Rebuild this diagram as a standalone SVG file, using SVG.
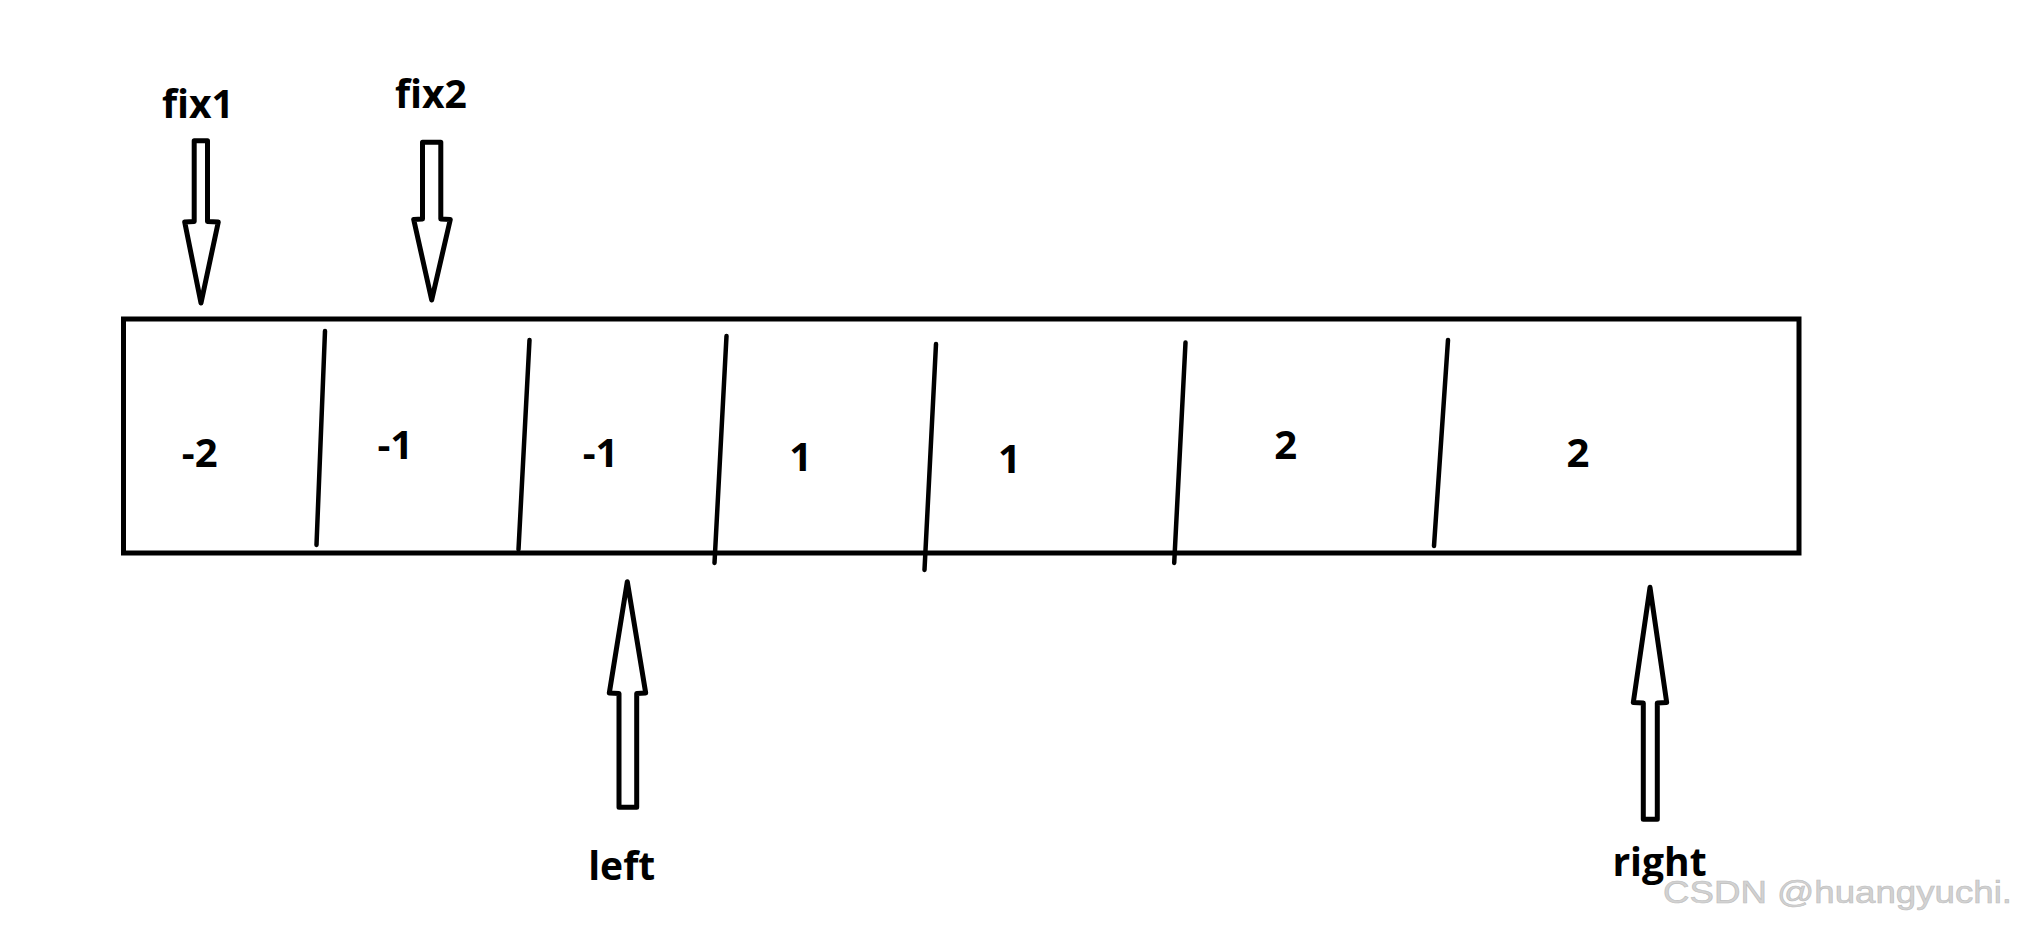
<svg xmlns="http://www.w3.org/2000/svg" width="2019" height="930" viewBox="0 0 2019 930">
<style>
.box{fill:none;stroke:#000;stroke-width:5}
.div{stroke:#000;stroke-width:4.5;stroke-linecap:round;fill:none}
.arr{fill:#fff;stroke:#000;stroke-width:5;stroke-linejoin:round}
.num{font-family:"Open Sans","Liberation Sans",sans-serif;font-weight:700;font-size:40px;fill:#000;text-anchor:middle}
.lbl{font-family:"Open Sans","Liberation Sans",sans-serif;font-weight:700;font-size:39px;fill:#000;text-anchor:middle}
.wm{font-family:"Liberation Sans",sans-serif;font-size:31px;fill:#d2d2d2;stroke:#bdbdbd;stroke-width:0.6}
</style>
<rect width="2019" height="930" fill="#fff"/>
<g id="array">
  <rect class="box" x="123.5" y="319" width="1675.5" height="234"/>
  <g id="dividers">
    <line class="div" x1="325" y1="331" x2="316.5" y2="545"/>
    <line class="div" x1="529.5" y1="340" x2="518.5" y2="549.5"/>
    <line class="div" x1="726.5" y1="336" x2="714.5" y2="563"/>
    <line class="div" x1="936" y1="344" x2="924.5" y2="570"/>
    <line class="div" x1="1185.5" y1="342.5" x2="1174.2" y2="563"/>
    <line class="div" x1="1448" y1="340" x2="1434" y2="546"/>
  </g>
  <g id="cells">
    <text class="num" x="199.7" y="467">-2</text>
    <text class="num" x="395.3" y="459">-1</text>
    <text class="num" x="600.5" y="467">-1</text>
    <text class="num" x="800.8" y="471">1</text>
    <text class="num" x="1009.5" y="473">1</text>
    <text class="num" x="1285.8" y="459">2</text>
    <text class="num" x="1578" y="467">2</text>
  </g>
</g>
<g id="fix1">
  <text class="lbl" x="198" y="118">fix1</text>
</g>
<g id="fix2">
  <text class="lbl" x="431" y="108">fix2</text>
</g>
<g id="left">
  <text class="lbl" x="621.7" y="880">left</text>
</g>
<g id="right">
  <text class="lbl" x="1659.5" y="876">right</text>
</g>
<g id="connectors">
  <polygon class="arr" points="194.2,140.7 207.5,140.7 207.5,221.5 218.3,222 201,303 184.7,222 194.2,221.5"/>
  <polygon class="arr" points="422.5,142.3 440.8,142.3 440.8,219 450.3,219.5 431.7,300 413.7,219.5 422.5,219"/>
  <polygon class="arr" points="619,807.3 636.7,807.3 636.7,693.5 645.7,693 627.3,581.7 609.3,693 619,693.5"/>
  <polygon class="arr" points="1643.3,819.3 1657.3,819.3 1657.3,703 1666.7,702.5 1650,587.3 1633.3,702.5 1643.3,703"/>
</g>
<text class="wm" x="1663" y="903" textLength="349" lengthAdjust="spacingAndGlyphs">CSDN @huangyuchi.</text>
</svg>
